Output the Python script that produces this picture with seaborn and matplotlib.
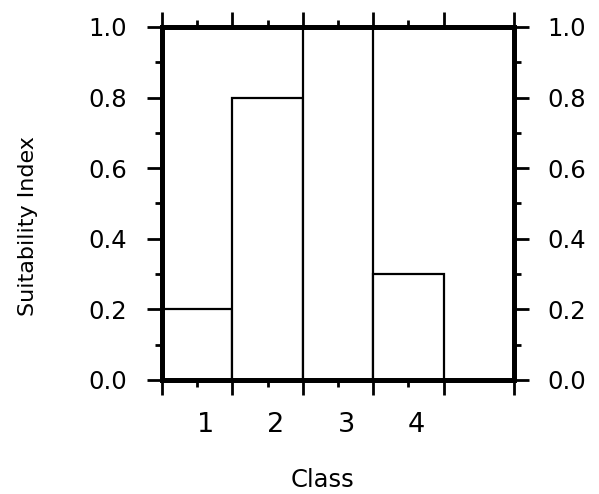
import numpy as np
import pandas as pd
import matplotlib
matplotlib.use("Agg")
import matplotlib.pyplot as plt
import matplotlib.transforms as mtransforms
import seaborn as sns
from matplotlib.ticker import MultipleLocator, FixedLocator

# Data
classes = ["1", "2", "3", "4"]
suitability = [0.2, 0.8, 1.0, 0.3]

data = pd.DataFrame({"Class": classes, "Suitability Index": suitability})

sns.set_style("ticks")
plt.rcParams["font.family"] = ["DejaVu Sans"]
plt.rcParams["text.color"] = "black"
plt.rcParams["axes.labelcolor"] = "black"
plt.rcParams["xtick.color"] = "black"
plt.rcParams["ytick.color"] = "black"

fig = plt.figure(figsize=(5.99, 4.94), dpi=100)
ax = fig.add_axes([0.2705, 0.2308, 0.5876, 0.7146])

sns.barplot(x="Class", y="Suitability Index", data=data, ax=ax,
            color="white", edgecolor="black", linewidth=1.6, width=1.0,
            saturation=1)

ax.set_xlim(-0.5, 4.5)
ax.set_ylim(0, 1.0)

# x ticks: short ticks at class centres (labelled), long ticks at boundaries
ax.set_xticks(range(len(classes)))
ax.set_xticklabels(classes)
ax.xaxis.set_minor_locator(FixedLocator(np.arange(-0.5, 5.0, 1.0)))
ax.tick_params(axis="x", which="major", direction="out", length=5, width=2,
               top=True, bottom=True, labelsize=19.5, pad=18)
ax.tick_params(axis="x", which="minor", direction="out", length=11, width=2,
               top=True, bottom=True)
shift = mtransforms.ScaledTranslation(0.08, 0, fig.dpi_scale_trans)
for lbl in ax.get_xticklabels():
    lbl.set_transform(lbl.get_transform() + shift)

# y axis, left side
ax.yaxis.set_major_locator(MultipleLocator(0.2))
ax.yaxis.set_minor_locator(MultipleLocator(0.1))
ax.yaxis.set_major_formatter(plt.FormatStrFormatter("%.1f"))
ax.tick_params(axis="y", which="major", direction="out", length=11, width=2,
               left=True, right=False, labelsize=17.5, pad=14)
ax.tick_params(axis="y", which="minor", direction="out", length=5, width=2,
               left=True, right=False)

# y axis, right side
ax2 = ax.twinx()
ax2.set_ylim(0, 1.0)
ax2.yaxis.set_major_locator(MultipleLocator(0.2))
ax2.yaxis.set_minor_locator(MultipleLocator(0.1))
ax2.yaxis.set_major_formatter(plt.FormatStrFormatter("%.1f"))
ax2.tick_params(axis="y", which="major", direction="out", length=11, width=2,
                labelsize=17.5, pad=13)
ax2.tick_params(axis="y", which="minor", direction="out", length=5, width=2)

for a in (ax, ax2):
    for side in ["left", "right", "top", "bottom"]:
        a.spines[side].set_visible(True)
        a.spines[side].set_linewidth(3.5)
        a.spines[side].set_color("black")

ax.set_xlabel("Class", fontsize=17.5)
ax.xaxis.set_label_coords(0.457, -0.250)
ax.set_ylabel("Suitability Index", fontsize=16)
ax.yaxis.set_label_coords(-0.352, 0.436)

fig.savefig("out.png", dpi=100)
